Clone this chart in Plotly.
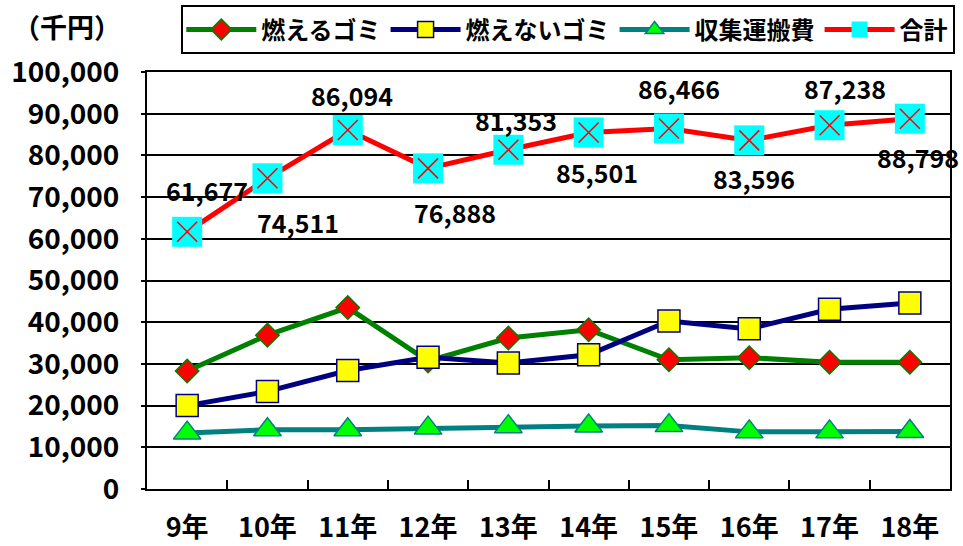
import plotly.graph_objects as go

years = ["9年", "10年", "11年", "12年", "13年", "14年", "15年", "16年", "17年", "18年"]
burnable = [28300, 36900, 43500, 30700, 36200, 38200, 31000, 31500, 30400, 30400]
non_burnable = [20000, 23400, 28400, 31600, 30200, 32200, 40300, 38400, 43100, 44600]
collection = [13400, 14200, 14200, 14600, 14950, 15100, 15200, 13700, 13700, 13800]
total = [61677, 74511, 86094, 76888, 81353, 85501, 86466, 83596, 87238, 88798]
y_ticks = [0, 10000, 20000, 30000, 40000, 50000, 60000, 70000, 80000, 90000, 100000]

# label placement offsets in px (styling)
label_dx = [20, 31, 4, 27, 8, 8, 10, 5, 15, 8]
label_dy = [42, -44, 35, -44, 30, -40, 40, -38, 37, -38]

FONT = "Noto Sans CJK JP"

fig = go.Figure()
fig.add_trace(go.Scatter(
    x=years, y=burnable, name="燃えるゴミ", mode="lines+markers",
    line=dict(color="#008000", width=5),
    marker=dict(symbol="diamond", size=18, color="#FF0000",
                line=dict(color="#008000", width=1.5))))
fig.add_trace(go.Scatter(
    x=years, y=non_burnable, name="燃えないゴミ", mode="lines+markers",
    line=dict(color="#000080", width=5),
    marker=dict(symbol="square", size=22, color="#FFFF00",
                line=dict(color="#000080", width=1.5))))
fig.add_trace(go.Scatter(
    x=years, y=collection, name="収集運搬費", mode="lines+markers",
    line=dict(color="#008080", width=5),
    marker=dict(symbol="triangle-up", size=24, color="#00FF00",
                line=dict(color="#008080", width=1.5))))
fig.add_trace(go.Scatter(
    x=years, y=total, name="合計", mode="lines+markers", legendgroup="t",
    line=dict(color="#FF0000", width=5),
    marker=dict(symbol="square", size=30, color="#00FFFF",
                line=dict(width=0))))
fig.add_trace(go.Scatter(
    x=years, y=total, mode="markers", legendgroup="t", showlegend=False,
    marker=dict(symbol="x-thin-open", size=20, color="#FF0000",
                line=dict(color="#FF0000", width=1.5))))

for i, (yr, v) in enumerate(zip(years, total)):
    fig.add_annotation(x=yr, y=v, text=f"{v:,}", showarrow=False,
                       xshift=label_dx[i], yshift=label_dy[i],
                       font=dict(family=FONT, size=25, color="black", weight="bold"))

fig.add_annotation(xref="paper", yref="paper", x=-0.1, y=1.108,
                   xanchor="center", yanchor="middle",
                   text="（千円）", showarrow=False,
                   font=dict(family=FONT, size=27, color="black", weight="bold"))

fig.update_xaxes(type="category", range=[-0.5, 9.5], tickson="boundaries",
                 ticks="inside", ticklen=9,
                 tickwidth=2, tickcolor="black", showline=True, mirror=True,
                 linecolor="black", linewidth=2, showgrid=False, automargin=False,
                 tickfont=dict(family=FONT, size=27, color="black", weight="bold"),
                 ticklabelstandoff=14)
fig.update_yaxes(range=[0, 100000], tickvals=y_ticks, tickformat=",d",
                 showline=True, mirror=True, linecolor="black", linewidth=2,
                 showgrid=True, gridcolor="black", gridwidth=1.5,
                 ticks="outside", ticklen=4, tickcolor="black", tickwidth=1.5,
                 zeroline=False, automargin=False,
                 tickfont=dict(family=FONT, size=28, color="black", weight="bold"),
                 ticklabelstandoff=16)

fig.update_layout(
    width=963, height=546,
    margin=dict(l=147, r=13, t=72, b=57),
    plot_bgcolor="white", paper_bgcolor="white",
    font=dict(family=FONT, color="black"),
    legend=dict(orientation="h", xref="container", yref="container",
                x=0.992, xanchor="right", y=0.99, yanchor="top",
                bordercolor="black", borderwidth=2, bgcolor="white",
                font=dict(family=FONT, size=24, color="black", weight="bold"),
                itemwidth=70, tracegroupgap=0),
)

fig.write_html("out.html")
